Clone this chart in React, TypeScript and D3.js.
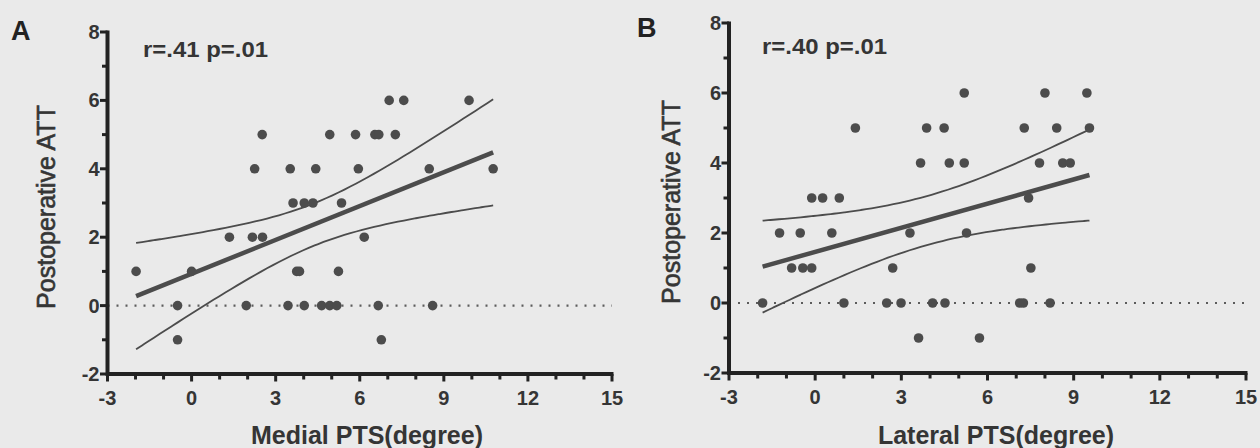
import React from "react";
import * as d3 from "d3";

// ---------- DATA ----------
const xTickLabels = [-3, 0, 3, 6, 9, 12, 15];
const yTickLabels = [-2, 0, 2, 4, 6, 8];

// Panel A: Medial PTS vs Postoperative ATT  [x, y]
const medialPoints: [number, number][] = [
  [7.05, 6], [7.57, 6], [9.9, 6],
  [2.52, 5], [4.93, 5], [5.85, 5], [6.54, 5], [6.68, 5], [7.27, 5],
  [2.25, 4], [3.52, 4], [4.43, 4], [5.95, 4], [8.48, 4], [10.76, 4],
  [3.62, 3], [4.02, 3], [4.33, 3], [5.35, 3],
  [1.35, 2], [2.17, 2], [2.53, 2], [6.16, 2],
  [-1.98, 1], [0.0, 1], [3.75, 1], [3.85, 1], [5.24, 1],
  [-0.5, 0], [1.95, 0], [3.44, 0], [4.02, 0], [4.64, 0], [4.93, 0], [5.18, 0], [6.66, 0], [8.6, 0],
  [-0.5, -1], [6.77, -1],
];

// Panel B: Lateral PTS vs Postoperative ATT  [x, y]
const lateralPoints: [number, number][] = [
  [5.19, 6], [8.0, 6], [9.46, 6],
  [1.4, 5], [3.88, 5], [4.49, 5], [7.28, 5], [8.41, 5], [9.55, 5],
  [3.67, 4], [4.67, 4], [5.19, 4], [7.81, 4], [8.62, 4], [8.88, 4],
  [-0.12, 3], [0.26, 3], [0.84, 3], [7.43, 3],
  [-1.24, 2], [-0.52, 2], [0.58, 2], [3.3, 2], [5.27, 2],
  [-0.82, 1], [-0.43, 1], [-0.12, 1], [2.7, 1], [7.51, 1],
  [-1.83, 0], [1.0, 0], [2.49, 0], [2.99, 0], [4.09, 0], [4.52, 0], [7.12, 0], [7.25, 0], [8.18, 0],
  [3.6, -1], [5.72, -1],
];

// Fitted regression: slope, intercept, CI centre, CI half-width at centre, CI growth
const medialFit = { slope: 0.33, intercept: 0.93, ciCenter: 4.4, ciHalf0: 0.62, ciGrowth: 0.05 };
const lateralFit = { slope: 0.23, intercept: 1.46, ciCenter: 3.9, ciHalf0: 0.7, ciGrowth: 0.0377 };

const panelLetters = ["A", "B"];
const statLabels = ["r=.41 p=.01", "r=.40 p=.01"];
const xTitles = ["Medial PTS(degree)", "Lateral PTS(degree)"];
const yTitle = "Postoperative ATT";

// ---------- STYLE ----------
const FONT = "'Liberation Sans', Arial, Helvetica, sans-serif";
const BG = "#eaeaea";
const AXIS = "#222";
const TEXT = "#353535";
const MARK = "#4c4c4c";

type Fit = typeof medialFit;

interface PanelProps {
  points: [number, number][];
  fit: Fit;
  letter: string;
  stat: string;
  xTitle: string;
  left: number;
  right: number;
  top: number;
  bottom: number;
  letterPos: [number, number];
  statPos: [number, number];
  yTitleX: number;
  xTitleX: number;
  xTitleY: number;
}

function Panel(p: PanelProps) {
  const x = d3.scaleLinear().domain([-3, 15]).range([p.left, p.right]);
  const y = d3.scaleLinear().domain([-2, 8]).range([p.bottom, p.top]);

  const xExt = d3.extent(p.points, (d) => d[0]) as [number, number];
  const xs = d3.range(0, 61).map((i) => xExt[0] + ((xExt[1] - xExt[0]) * i) / 60);
  const fitY = (v: number) => p.fit.intercept + p.fit.slope * v;
  const half = (v: number) =>
    Math.sqrt(p.fit.ciHalf0 * p.fit.ciHalf0 + p.fit.ciGrowth * (v - p.fit.ciCenter) ** 2);

  const line = d3
    .line<[number, number]>()
    .x((d) => x(d[0]))
    .y((d) => y(d[1]))
    .curve(d3.curveMonotoneX);

  const upper = line(xs.map((v) => [v, fitY(v) + half(v)] as [number, number]));
  const lower = line(xs.map((v) => [v, fitY(v) - half(v)] as [number, number]));
  const mid = line([
    [xExt[0], fitY(xExt[0])],
    [xExt[1], fitY(xExt[1])],
  ]);

  const xMinor = d3.range(-3, 16, 1);
  const yMinor = d3.range(-2, 9, 1);

  return (
    <g>
      {/* dotted zero line */}
      <line
        x1={x(-3)}
        x2={x(15)}
        y1={y(0)}
        y2={y(0)}
        stroke="#5c5c5c"
        strokeWidth={2.2}
        strokeDasharray="2,7"
      />
      {/* CI curves */}
      <path d={upper || ""} fill="none" stroke={MARK} strokeWidth={1.8} />
      <path d={lower || ""} fill="none" stroke={MARK} strokeWidth={1.8} />
      {/* regression line */}
      <path d={mid || ""} fill="none" stroke={MARK} strokeWidth={4.5} />
      {/* points */}
      {p.points.map((d, i) => (
        <circle key={i} cx={x(d[0])} cy={y(d[1])} r={4.8} fill={MARK} />
      ))}
      {/* axes */}
      <line x1={p.left} x2={p.right + 1.5} y1={p.bottom} y2={p.bottom} stroke={AXIS} strokeWidth={4} />
      <line x1={p.left} x2={p.left} y1={p.top - 1.5} y2={p.bottom + 2} stroke={AXIS} strokeWidth={4} />
      {xMinor.map((v) => {
        const major = xTickLabels.includes(v);
        return (
          <line
            key={"xt" + v}
            x1={x(v)}
            x2={x(v)}
            y1={p.bottom}
            y2={p.bottom + (major ? 7.5 : 5.5)}
            stroke={AXIS}
            strokeWidth={3}
          />
        );
      })}
      {yMinor.map((v) => {
        const major = yTickLabels.includes(v);
        return (
          <line
            key={"yt" + v}
            x1={p.left}
            x2={p.left - (major ? 7.5 : 5.5)}
            y1={y(v)}
            y2={y(v)}
            stroke={AXIS}
            strokeWidth={3}
          />
        );
      })}
      {xTickLabels.map((v) => (
        <text
          key={"xl" + v}
          x={x(v)}
          y={p.bottom + 31}
          textAnchor="middle"
          fontSize={20}
          fontWeight="bold"
          fontFamily={FONT}
          fill={TEXT}
        >
          {v}
        </text>
      ))}
      {yTickLabels.map((v) => (
        <text
          key={"yl" + v}
          x={p.left - 8}
          y={y(v) + 7}
          textAnchor="end"
          fontSize={20}
          fontWeight="bold"
          fontFamily={FONT}
          fill={TEXT}
        >
          {v}
        </text>
      ))}
      {/* panel letter */}
      <text x={p.letterPos[0]} y={p.letterPos[1]} fontSize={27} fontWeight="bold" fontFamily={FONT} fill="#222">
        {p.letter}
      </text>
      {/* stat */}
      <text
        x={p.statPos[0]}
        y={p.statPos[1]}
        fontSize={22}
        fontWeight="bold"
        fontFamily={FONT}
        fill={TEXT}
        textLength={125}
        lengthAdjust="spacingAndGlyphs"
      >
        {p.stat}
      </text>
      {/* axis titles */}
      <text
        transform={`translate(${p.yTitleX},${(p.top + p.bottom) / 2 + 4}) rotate(-90)`}
        textAnchor="middle"
        fontSize={25}
        fontFamily={FONT}
        fill={TEXT}
        stroke={TEXT}
        strokeWidth={0.6}
      >
        {yTitle}
      </text>
      <text
        x={p.xTitleX}
        y={p.xTitleY}
        textAnchor="middle"
        fontSize={25}
        fontWeight="bold"
        fontFamily={FONT}
        fill={TEXT}
      >
        {p.xTitle}
      </text>
    </g>
  );
}

export default function App() {
  return (
    <svg
      width={1260}
      height={448}
      style={{ position: "absolute", left: 0, top: 0, background: BG }}
    >
      <rect x={0} y={0} width={1260} height={448} fill={BG} />
      <Panel
        points={medialPoints}
        fit={medialFit}
        letter={panelLetters[0]}
        stat={statLabels[0]}
        xTitle={xTitles[0]}
        left={107.5}
        right={612}
        top={32}
        bottom={374}
        letterPos={[11, 40]}
        statPos={[143, 57]}
        yTitleX={55}
        xTitleX={367}
        xTitleY={444}
      />
      <Panel
        points={lateralPoints}
        fit={lateralFit}
        letter={panelLetters[1]}
        stat={statLabels[1]}
        xTitle={xTitles[1]}
        left={729}
        right={1246}
        top={23}
        bottom={373}
        letterPos={[637, 37]}
        statPos={[762, 54]}
        yTitleX={680}
        xTitleX={996}
        xTitleY={444}
      />
    </svg>
  );
}
